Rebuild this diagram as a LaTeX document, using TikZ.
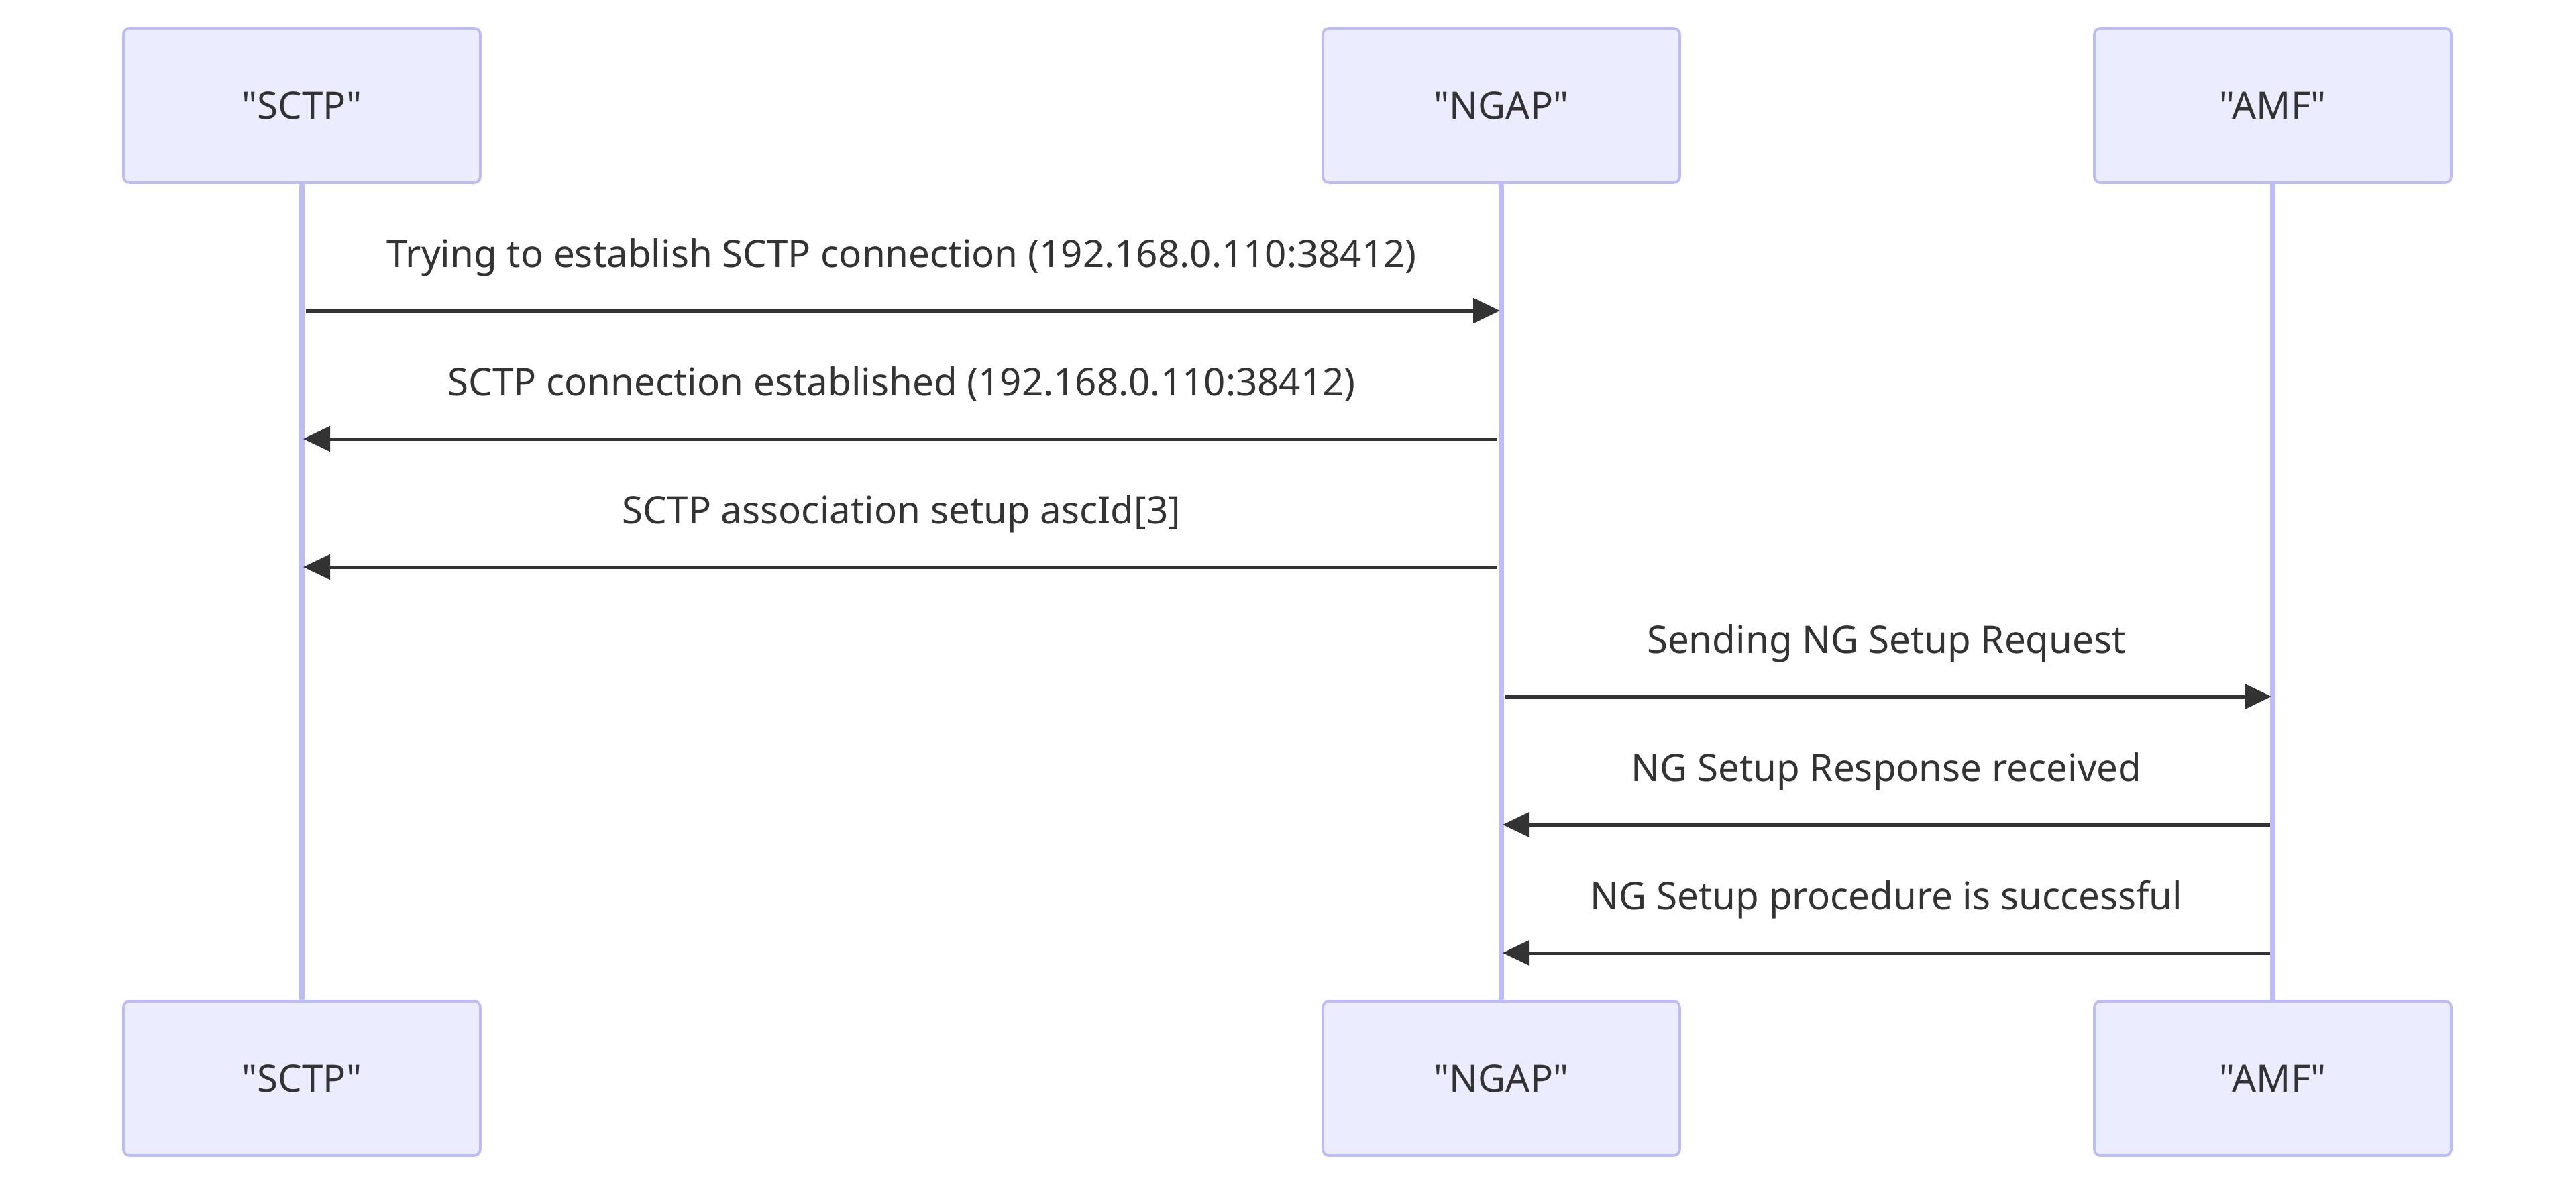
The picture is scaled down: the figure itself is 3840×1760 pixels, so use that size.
\documentclass[tikz,border=0pt]{standalone}
\usepackage{fontspec}
\setmainfont{Noto Sans}[Ligatures=TeXOff]
\usetikzlibrary{arrows.meta}
\definecolor{actfill}{HTML}{ECECFF}
\definecolor{actborder}{RGB}{188,188,250}
\definecolor{lifeln}{RGB}{188,188,250}
\definecolor{txt}{HTML}{333333}
\tikzset{
  actorbox/.style={draw=actborder, fill=actfill, line width=0.75pt, rounded corners=1.8pt,
    minimum width=106.4pt, minimum height=46pt, inner sep=0pt, text=txt,
    font=\fontsize{11.3pt}{13pt}\selectfont},
  lifeline/.style={draw=lifeln, line width=1.5pt},
  msg/.style={draw=txt, line width=1pt, -{Triangle[length=8pt,width=7.4pt]}},
  msglabel/.style={anchor=base, text=txt, inner sep=0pt, font=\fontsize{11.3pt}{13pt}\selectfont}
}
\begin{document}
\begin{tikzpicture}[x=0.2pt,y=-0.2pt]
\useasboundingbox (0,0) rectangle (3840,1760);
\fill[white] (0,0) rectangle (3840,1760);
% lifelines
\draw[lifeline] (450,272) -- (450,1492);
\draw[lifeline] (2238,272) -- (2238,1492);
\draw[lifeline] (3388,272) -- (3388,1492);
% actor boxes
\node[actorbox] (sctpT) at (450,157) {"SCTP"};
\node[actorbox] (ngapT) at (2238,157) {"NGAP"};
\node[actorbox] (amfT)  at (3388,157) {"AMF"};
\node[actorbox] (sctpB) at (450,1607) {"SCTP"};
\node[actorbox] (ngapB) at (2238,1607) {"NGAP"};
\node[actorbox] (amfB)  at (3388,1607) {"AMF"};
% messages
\coordinate (m1a) at (456,463);  \coordinate (m1b) at (2236,463);
\coordinate (m2a) at (2232,654); \coordinate (m2b) at (452,654);
\coordinate (m3a) at (2232,845); \coordinate (m3b) at (452,845);
\coordinate (m4a) at (2244,1038); \coordinate (m4b) at (3386,1038);
\coordinate (m5a) at (3384,1229); \coordinate (m5b) at (2240,1229);
\coordinate (m6a) at (3384,1420); \coordinate (m6b) at (2240,1420);
\draw[msg] (m1a) -- (m1b);
\draw[msg] (m2a) -- (m2b);
\draw[msg] (m3a) -- (m3b);
\draw[msg] (m4a) -- (m4b);
\draw[msg] (m5a) -- (m5b);
\draw[msg] (m6a) -- (m6b);
\node[msglabel] (l1) at (1344,398) {Trying to establish SCTP connection (192.168.0.110:38412)};
\node[msglabel] (l2) at (1344,589) {SCTP connection established (192.168.0.110:38412)};
\node[msglabel] (l3) at (1344,780) {SCTP association setup ascId[3]};
\node[msglabel] (l4) at (2812,973) {Sending NG Setup Request};
\node[msglabel] (l5) at (2812,1164) {NG Setup Response received};
\node[msglabel] (l6) at (2812,1355) {NG Setup procedure is successful};
\end{tikzpicture}
\end{document}
